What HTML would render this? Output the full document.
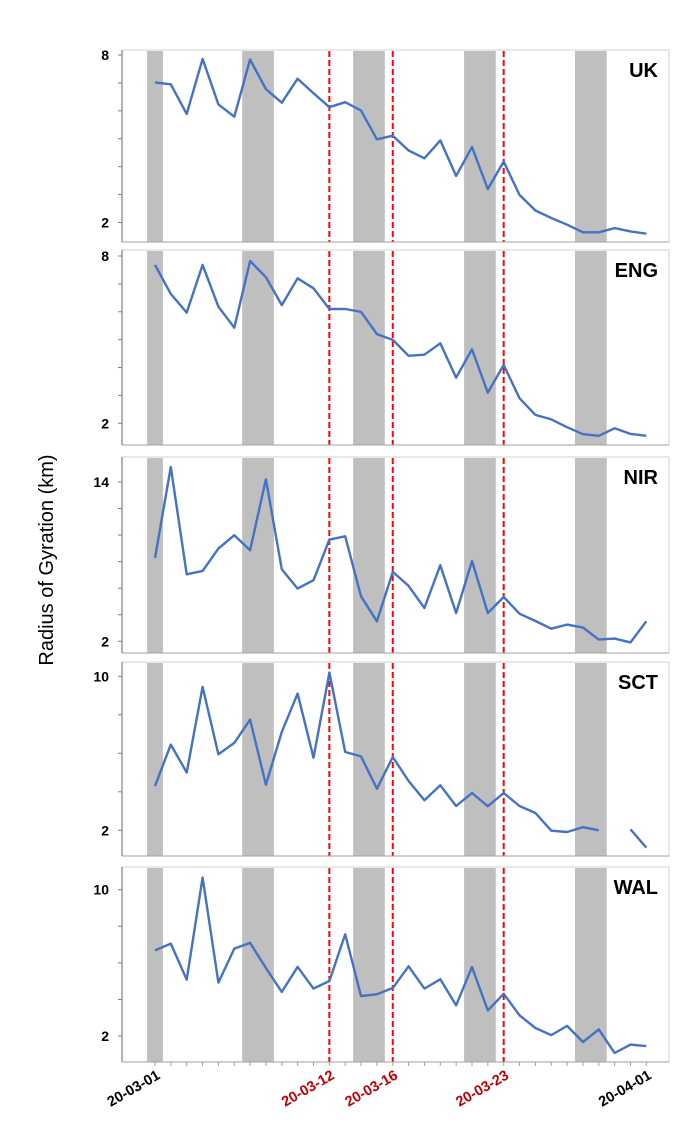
<!DOCTYPE html>
<html><head><meta charset="utf-8"><style>
html,body{margin:0;padding:0;background:#fff;}
svg{display:block;font-family:"Liberation Sans",Arial,sans-serif;}
</style></head><body>
<svg id="chart" width="691" height="1127" viewBox="0 0 691 1127" xmlns="http://www.w3.org/2000/svg">
<text transform="translate(53,560) rotate(-90)" text-anchor="middle" font-size="20" fill="#000">Radius of Gyration (km)</text>
</svg>
<script>
const regions = ["UK","ENG","NIR","SCT","WAL"];
const ukValues = [7.02,6.95,5.89,7.86,6.23,5.79,7.84,6.78,6.29,7.15,6.63,6.13,6.31,6.01,4.98,5.11,4.58,4.30,4.94,3.67,4.70,3.20,4.18,2.99,2.43,2.16,1.92,1.65,1.65,1.80,1.68,1.60];
const engValues = [7.68,6.64,5.97,7.68,6.18,5.43,7.82,7.24,6.24,7.20,6.84,6.10,6.10,6.00,5.20,4.99,4.42,4.46,4.87,3.64,4.65,3.10,4.09,2.90,2.30,2.14,1.86,1.61,1.55,1.82,1.62,1.55];
const nirValues = [8.28,15.13,7.05,7.30,8.98,9.99,8.86,14.20,7.43,5.97,6.60,9.66,9.91,5.39,3.51,7.23,6.17,4.51,7.73,4.13,8.05,4.13,5.34,4.08,3.53,2.95,3.26,3.03,2.13,2.20,1.92,3.51];
const sctValues = [4.30,6.45,5.00,9.45,5.95,6.54,7.75,4.37,7.11,9.10,5.77,10.19,6.07,5.84,4.16,5.81,4.56,3.56,4.34,3.26,3.94,3.25,3.94,3.26,2.90,1.98,1.91,2.16,2.00,null,2.05,1.10];
const walValues = [6.68,7.05,5.08,10.66,4.92,6.78,7.09,5.72,4.41,5.78,4.59,5.01,7.56,4.19,4.28,4.63,5.81,4.59,5.10,3.68,5.77,3.40,4.31,3.13,2.44,2.05,2.55,1.67,2.36,1.07,1.53,1.45];
const yTickLabels = [["8","2"],["8","2"],["14","2"],["10","2"],["10","2"]];
const yTickValues = [[8,2],[8,2],[14,2],[10,2],[10,2]];
const yMinorStep = [1,1,2,2,2];
const weekendStartDays = [0.5,6.5,13.5,20.5,27.5];
const weekendEndDays = [1.5,8.5,15.5,22.5,29.5];
const eventDays = [12,16,23];
const xTickLabels = ["20-03-01","20-03-12","20-03-16","20-03-23","20-04-01"];
const xTickDays = [1,12,16,23,32];
const xTickRed = [false,true,true,true,false];

const NS="http://www.w3.org/2000/svg";
const svg=document.getElementById('chart');
function mk(tag,attrs,parent){const e=document.createElementNS(NS,tag);for(const k in attrs)e.setAttribute(k,attrs[k]);(parent||svg).appendChild(e);return e;}
const series=[ukValues,engValues,nirValues,sctValues,walValues];
const panels=[[50,242,55,222.5],[250,445,256,423.3],[457,653,482,641.3],[662,856,676.3,830.3],[867,1062,889.7,1036]];
const L=122,R=669;
function xDay(d){return 155+(d-1)*15.85;}

panels.forEach((p,i)=>{
  const [top,bot,yHi,yLo]=p;
  const vHi=yTickValues[i][0],vLo=yTickValues[i][1];
  const yS=v=>yLo+(v-vLo)*(yHi-yLo)/(vHi-vLo);
  const g=mk('g',{});
  
  
  mk('rect',{x:L,y:top,width:R-L,height:bot-top,fill:'#fff',stroke:'#d0d0d0','stroke-width':1},g);
  weekendStartDays.forEach((d,j)=>{
    const r=mk('rect',{x:xDay(d),y:top+1,width:(weekendEndDays[j]-d)*15.85,height:bot-top-1,fill:'#bfbfbf'},g);
    
    
  });
  eventDays.forEach(d=>{
    const l=mk('line',{x1:xDay(d),x2:xDay(d),y1:top+1,y2:bot,stroke:'#ff0000','stroke-width':2,'stroke-dasharray':'6,3'},g);
    
    
  });
  mk('line',{x1:L,x2:L,y1:top,y2:bot,stroke:'#808080','stroke-width':1.2},g);
  mk('line',{x1:L,x2:R,y1:bot,y2:bot,stroke:'#a0a0a0','stroke-width':1},g);
  for(let v=vLo;v<=vHi+1e-9;v+=yMinorStep[i]){
    mk('line',{x1:L-4,x2:L,y1:yS(v),y2:yS(v),stroke:'#808080','stroke-width':1},g);
  }
  yTickLabels[i].forEach((t,j)=>{
    const tx=mk('text',{x:109,y:yS(yTickValues[i][j])+5,'text-anchor':'end','font-size':14,'font-weight':'bold',fill:'#000'},g);
    tx.textContent=t;
    
    
  });
  const vals=series[i];let seg=[];const segs=[];
  vals.forEach((v,k)=>{if(v===null){if(seg.length)segs.push(seg);seg=[];}else seg.push(xDay(k+1).toFixed(1)+','+yS(v).toFixed(1));});
  if(seg.length)segs.push(seg);
  segs.forEach(s=>{
    const pl=mk('polyline',{points:s.join(' '),fill:'none',stroke:'#4472c4','stroke-width':2.4,'stroke-linejoin':'round'},g);
    
    
  });
  const tt=mk('text',{x:658,y:top+27,'text-anchor':'end','font-size':20,'font-weight':'bold',fill:'#000'},g);
  tt.textContent=regions[i];
  
  
  if(i===4){
    for(let d=1;d<=32;d++){
      mk('line',{x1:xDay(d),x2:xDay(d),y1:bot,y2:bot+4,stroke:'#a0a0a0','stroke-width':1},g);
    }
    xTickLabels.forEach((t,j)=>{
      const x=xDay(xTickDays[j]);
      const tx=mk('text',{transform:'translate('+(x+6)+','+(bot+16)+') rotate(-30)','text-anchor':'end','font-size':14.5,'font-weight':'bold',fill:xTickRed[j]?'#c00000':'#000'},g);
      tx.textContent=t;
      
      
    });
  }
});
</script>
</body></html>
